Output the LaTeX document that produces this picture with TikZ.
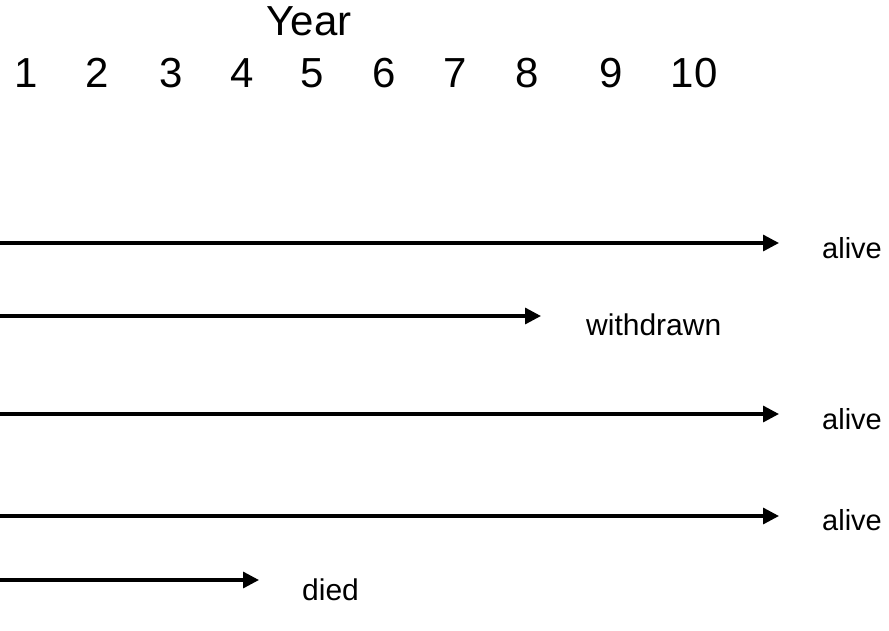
\documentclass[tikz,border=0pt]{standalone}
\usepackage{fontspec}
\setmainfont{Liberation Sans}
\usetikzlibrary{arrows.meta}
\begin{document}
\begin{tikzpicture}[x=1pt,y=-1pt,
  heading/.style={inner sep=0pt,font=\fontsize{42}{50}\selectfont},
  yearnum/.style={inner sep=0pt,font=\fontsize{42}{50}\selectfont},
  status/.style={anchor=west,inner sep=0pt,font=\fontsize{30}{36}\selectfont},
  follow/.style={line width=3.3pt,-{Triangle[length=16pt,width=16pt]}}]
\useasboundingbox (0,0) rectangle (889,630);

% axis header
\node[heading] (year) at (309,21) {Year};
\foreach \n/\x in {1/26,2/97,3/171,4/242,5/312,6/384,7/455,8/527,9/611,10/694}
  \node[yearnum] (y\n) at (\x,73) {\n};

% follow-up lines
\coordinate (s1) at (0,243);  \coordinate (e1) at (779,243);
\coordinate (s2) at (0,316);  \coordinate (e2) at (541,316);
\coordinate (s3) at (0,414);  \coordinate (e3) at (779,414);
\coordinate (s4) at (0,516);  \coordinate (e4) at (779,516);
\coordinate (s5) at (0,580);  \coordinate (e5) at (259,580);

\node[status,font=\fontsize{29}{35}\selectfont] (l1) at (822,248) {alive};
\node[status] (l2) at (586,325) {withdrawn};
\node[status,font=\fontsize{29}{35}\selectfont] (l3) at (822,419) {alive};
\node[status,font=\fontsize{29}{35}\selectfont] (l4) at (822,520) {alive};
\node[status] (l5) at (302,590) {died};

\foreach \i in {1,...,5}
  \draw[follow] (s\i) -- (e\i);
\end{tikzpicture}
\end{document}
